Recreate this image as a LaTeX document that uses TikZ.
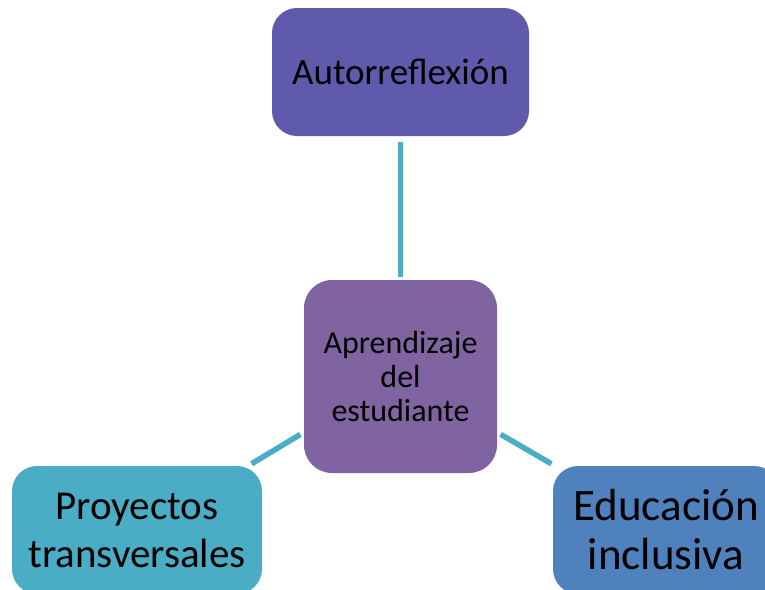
\documentclass[tikz,border=0pt]{standalone}
\usepackage{fontspec}
\setmainfont{Carlito}
\definecolor{topc}{RGB}{95,90,172}
\definecolor{midc}{RGB}{128,100,162}
\definecolor{leftc}{RGB}{75,172,198}
\definecolor{rightc}{RGB}{79,129,189}
\definecolor{linkc}{RGB}{75,172,198}
\begin{document}
\begin{tikzpicture}[x=1pt,y=-1pt,
  box/.style={rectangle, rounded corners=25pt, inner sep=0pt, align=center, text=black},
  link/.style={draw=linkc, line width=5.5pt, shorten <=4pt, shorten >=4pt}]
\useasboundingbox (0,0) rectangle (765,589);
\node[box, fill=topc, minimum width=257pt, minimum height=128pt, font=\fontsize{37}{44}\selectfont] (a) at (400.5,72) {Autorreflexión};
\node[box, fill=midc, rounded corners=28pt, minimum width=193pt, minimum height=193pt, font=\fontsize{32}{34}\selectfont] (c) at (400.5,376.5) {Aprendizaje\\del\\estudiante};
\node[box, fill=leftc, minimum width=250pt, minimum height=128pt, font=\fontsize{41}{48}\selectfont] (p) at (137,530) {Proyectos\\transversales};
\node[box, fill=rightc, minimum width=226pt, minimum height=128pt, font=\fontsize{45}{49}\selectfont] (e) at (666,530) {Educación\\inclusiva};
\draw[link, shorten <=6pt, shorten >=3pt] (a.south) -- (c.north);
\draw[link] (c.210) -- (p.30);
\draw[link] (c.330) -- (e.150);
\end{tikzpicture}
\end{document}
